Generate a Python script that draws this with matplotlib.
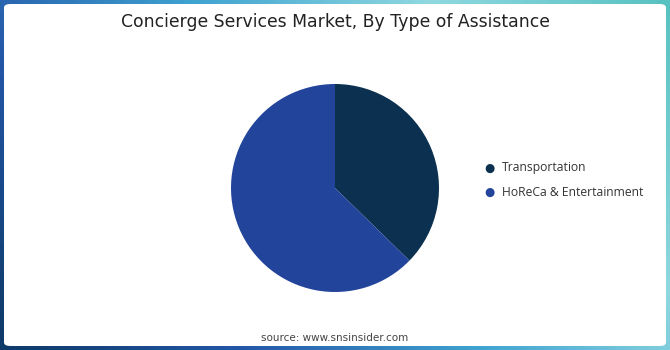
import numpy as np
import matplotlib.pyplot as plt
from matplotlib.patches import FancyBboxPatch
from matplotlib.colors import LinearSegmentedColormap

labels = ["Transportation", "HoReCa & Entertainment"]
shares = [37.3, 62.7]
colors = ["#0b3050", "#22449a"]

fig = plt.figure(figsize=(6.7, 3.5), dpi=100)

# gradient frame behind the white card
bg = fig.add_axes([0, 0, 1, 1])
bg.set_axis_off()
cmap = LinearSegmentedColormap.from_list("frame", ["#0d3a66", "#2456a8", "#3fa3d0", "#8fd8e0", "#58c2c0"])
xx, yy = np.meshgrid(np.linspace(0, 1, 200), np.linspace(0, 1, 100))
bg.imshow((xx * 0.7 + yy * 0.3), cmap=cmap, extent=[0, 1, 0, 1], aspect="auto", origin="lower")
bg.set_xlim(0, 1)
bg.set_ylim(0, 1)
card = FancyBboxPatch((4 / 670, 4 / 350), 662 / 670, 342 / 350,
                      boxstyle="round,pad=0,rounding_size=0.01",
                      facecolor="white", edgecolor="none", transform=bg.transAxes)
bg.add_patch(card)

fig.text(0.5, 1 - 22 / 350, "Concierge Services Market, By Type of Assistance",
         ha="center", va="center", fontsize=12.4, color="#222222", family="DejaVu Sans")
fig.text(0.5, 1 - 338 / 350, "source: www.snsinsider.com",
         ha="center", va="center", fontsize=7.5, color="#444444")

r = 104
ax = fig.add_axes([(335 - r) / 670, (350 - 188 - r) / 350, 2 * r / 670, 2 * r / 350])
ax.pie(shares, colors=colors, startangle=90, counterclock=False,
       wedgeprops=dict(linewidth=0))
ax.set_xlim(-1, 1)
ax.set_ylim(-1, 1)
ax.set_aspect("auto")

for i, (lab, c) in enumerate(zip(labels, colors)):
    y = 1 - (168 + 24 * i) / 350
    fig.text(489 / 670, y, "\u25CF", color=c, ha="center", va="center", fontsize=8.5)
    fig.text(502 / 670, y, lab, color="#333333", ha="left", va="center",
             fontsize=8.7, family="Open Sans")

fig.savefig("out.png", dpi=100)
